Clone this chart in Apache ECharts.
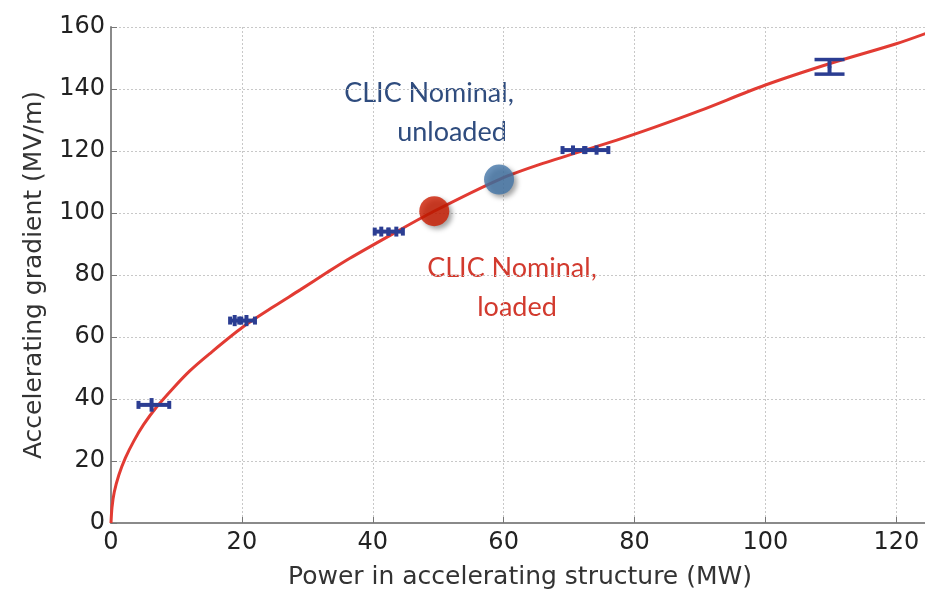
<!DOCTYPE html>
<html>
<head>
<meta charset="utf-8">
<script src="https://cdn.jsdelivr.net/npm/echarts@6/dist/echarts.min.js"></script>
<style>
  html, body { margin: 0; padding: 0; background: #fff; }
  #chart { width: 925px; height: 591px; }
</style>
</head>
<body>
<div id="chart"></div>
<script>
// Fitted gradient curve (power in MW, gradient in MV/m)
const fitPower    = [0, 0.15, 0.5, 1.2, 2.2, 3.5, 5, 7, 9.5, 12, 15, 20.2, 25, 28.9, 33, 36.5, 43, 49.2, 59.3, 66, 77.3, 83, 90, 99.9, 110, 120, 125];
const fitGradient = [0, 5, 10, 15.5, 21, 26.5, 31.8, 37.5, 43.5, 49, 54.5, 63.3, 70, 75.2, 80.8, 85.4, 93.2, 100.4, 110.8, 116, 123.5, 127.6, 133, 141.2, 148.3, 154.6, 158.3];

// Measured points with their error ranges
const measPower    = [6.2, 18.9, 20.7, 41.3, 43.6, 70.6, 74.2, 109.8];
const measGradient = [38.1, 65.3, 65.3, 94.0, 94.0, 120.3, 120.3, 147.1];
const powerLow     = [4.2, 18.2, 19.6, 40.3, 42.4, 69.0, 72.5, 109.8];
const powerHigh    = [8.9, 19.9, 22.0, 42.4, 44.6, 72.3, 76.0, 109.8];
const gradLow      = [35.9, 63.5, 63.5, 92.4, 92.4, 118.8, 118.8, 144.8];
const gradHigh     = [40.3, 67.1, 67.1, 95.6, 95.6, 121.8, 121.8, 149.5];

// CLIC nominal operating points
const loadedPoint   = [49.4, 100.6];
const unloadedPoint = [59.3, 110.8];

// Axis ticks
const xTickStep = 20;
const yTickStep = 20;
const xRange = [0, 125];
const yRange = [0, 160];

const fitData = fitPower.map((p, i) => [p, fitGradient[i]]);
const errData = measPower.map((p, i) => [p, measGradient[i], powerLow[i], powerHigh[i], gradLow[i], gradHigh[i]]);

const barColor = '#2B3D92';
const axisFont = 'DejaVu Sans';

function renderErr(params, api) {
  const x = api.value(0), y = api.value(1);
  const xl = api.value(2), xh = api.value(3);
  const yl = api.value(4), yh = api.value(5);
  const c = api.coord([x, y]);
  const pl = api.coord([xl, y]);
  const ph = api.coord([xh, y]);
  const vl = api.coord([x, yl]);
  const vh = api.coord([x, yh]);
  const style = { stroke: barColor, lineWidth: 4, fill: null };
  const kids = [];
  const hasH = xh > xl;
  if (hasH) {
    kids.push({ type: 'line', shape: { x1: pl[0], y1: pl[1], x2: ph[0], y2: ph[1] }, style });
    kids.push({ type: 'line', shape: { x1: pl[0], y1: pl[1] - 4, x2: pl[0], y2: pl[1] + 4 }, style });
    kids.push({ type: 'line', shape: { x1: ph[0], y1: ph[1] - 4, x2: ph[0], y2: ph[1] + 4 }, style });
  }
  kids.push({ type: 'line', shape: { x1: vl[0], y1: vl[1], x2: vh[0], y2: vh[1] }, style });
  const cw = hasH ? 0 : 15;
  if (cw) {
    const thin = { stroke: barColor, lineWidth: 3.5, fill: null };
    kids.push({ type: 'line', shape: { x1: vl[0] - cw, y1: vl[1], x2: vl[0] + cw, y2: vl[1] }, style: thin });
    kids.push({ type: 'line', shape: { x1: vh[0] - cw, y1: vh[1], x2: vh[0] + cw, y2: vh[1] }, style: thin });
    kids.push({ type: 'circle', shape: { cx: c[0], cy: c[1], r: 2 }, style: { fill: barColor } });
  }
  return { type: 'group', children: kids };
}

const chart = echarts.init(document.getElementById('chart'), null, { renderer: 'canvas' });

const splitStyle = { show: true, lineStyle: { color: '#c8c8c8', type: [2, 2], width: 1 } };

chart.setOption({
  animation: false,
  backgroundColor: '#fff',
  grid: { left: 111, top: 27, right: -4, bottom: 68, containLabel: false, outerBoundsMode: 'none' },
  xAxis: {
    type: 'value', min: xRange[0], max: xRange[1], interval: xTickStep,
    name: 'Power in accelerating structure (MW)', nameLocation: 'middle', nameGap: 42,
    nameTextStyle: { fontFamily: axisFont, fontSize: 25, color: '#333' },
    axisLine: { lineStyle: { color: '#8a8a8a', width: 2 } },
    axisTick: { inside: true, length: 6, lineStyle: { color: '#777' } },
    axisLabel: { showMaxLabel: false, fontFamily: axisFont, fontSize: 24, color: '#222', margin: 8 },
    splitLine: splitStyle
  },
  yAxis: {
    type: 'value', min: yRange[0], max: yRange[1], interval: yTickStep,
    name: 'Accelerating gradient (MV/m)', nameLocation: 'middle', nameGap: 64,
    nameTextStyle: { fontFamily: axisFont, fontSize: 25, color: '#333' },
    axisLine: { show: true, lineStyle: { color: '#8a8a8a', width: 2 } },
    axisTick: { show: true, inside: true, length: 6, lineStyle: { color: '#777' } },
    axisLabel: { fontFamily: axisFont, fontSize: 24, color: '#222', margin: 6 },
    splitLine: splitStyle
  },
  series: [
    {
      type: 'line', data: fitData, smooth: 0.3, showSymbol: false,
      lineStyle: { color: '#E23B33', width: 3 }, z: 2
    },
    {
      type: 'custom', data: errData, renderItem: renderErr, z: 3
    },
    {
      type: 'scatter', data: [loadedPoint], symbolSize: 30,
      itemStyle: { color: '#CC1B00', shadowBlur: 5, shadowOffsetX: 3, shadowOffsetY: 3, shadowColor: 'rgba(0,0,0,0.45)' }, z: 4
    },
    {
      type: 'scatter', data: [unloadedPoint], symbolSize: 30,
      itemStyle: { color: '#4475A8', shadowBlur: 5, shadowOffsetX: 3, shadowOffsetY: 3, shadowColor: 'rgba(0,0,0,0.45)' }, z: 4
    }
  ],
  graphic: [
    { type: 'text', x: 429, y: 93, style: { text: 'CLIC Nominal,', font: '27px Lato', fill: '#2F4C7E', align: 'center', verticalAlign: 'middle' } },
    { type: 'text', x: 452, y: 132, style: { text: 'unloaded', font: '27px Lato', fill: '#2F4C7E', align: 'center', verticalAlign: 'middle' } },
    { type: 'text', x: 512, y: 268, style: { text: 'CLIC Nominal,', font: '27px Lato', fill: '#D23A2E', align: 'center', verticalAlign: 'middle' } },
    { type: 'text', x: 517, y: 307, style: { text: 'loaded', font: '27px Lato', fill: '#D23A2E', align: 'center', verticalAlign: 'middle' } }
  ]
});
</script>
</body>
</html>
